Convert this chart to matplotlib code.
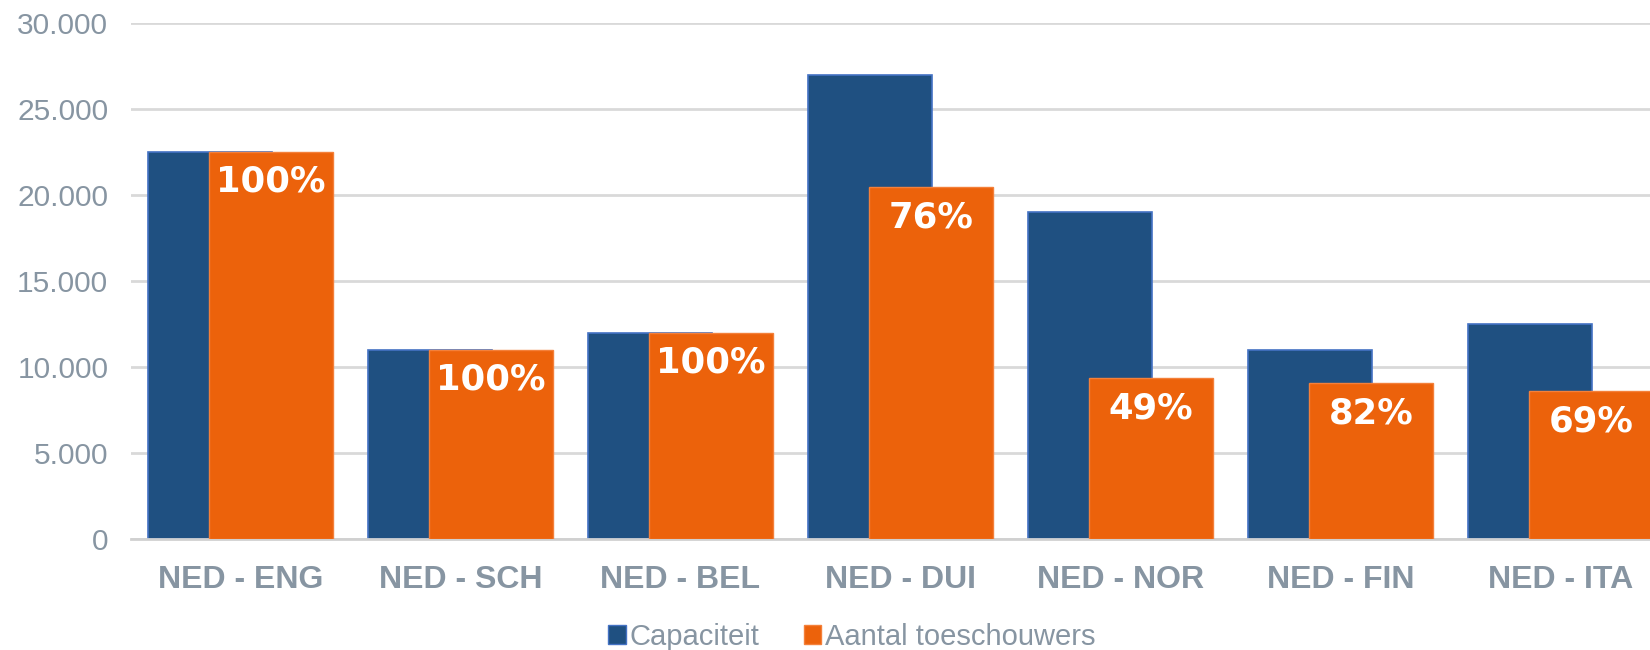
import matplotlib.pyplot as plt
from matplotlib.patches import Patch
from matplotlib.ticker import FuncFormatter

wedstrijden = ['NED - ENG', 'NED - SCH', 'NED - BEL', 'NED - DUI', 'NED - NOR', 'NED - FIN', 'NED - ITA']
capaciteit = [22500, 11000, 12000, 27000, 19000, 11000, 12500]
toeschouwers = [22500, 11000, 12000, 20450, 9350, 9050, 8600]
percentages = ['100%', '100%', '100%', '76%', '49%', '82%', '69%']

blauw = '#1f5081'
oranje = '#ec620b'
grijs = '#8795a2'

fig = plt.figure(figsize=(16.5, 6.5), dpi=100)
ax = fig.add_axes([130.5 / 1650, 111 / 650, 1540 / 1650, 516 / 650])

x = range(len(wedstrijden))
w = 0.56
off = 0.277
ax.bar([i - off / 2 for i in x], capaciteit, width=w, color=blauw,
       edgecolor='#4472c4', linewidth=1.2, zorder=2)
ax.bar([i + off / 2 for i in x], toeschouwers, width=w, color=oranje,
       edgecolor='#f4803a', linewidth=1.0, zorder=3)

for i, (v, p) in enumerate(zip(toeschouwers, percentages)):
    ax.annotate(p, (i + off / 2, v), xytext=(0, -30), textcoords='offset pixels',
                ha='center', va='center', color='white', fontsize=25.5,
                fontweight='heavy', family='DejaVu Sans', zorder=4)

ax.set_xlim(-0.5, len(wedstrijden) - 0.5)
ax.set_ylim(0, 30000)
ax.set_yticks(range(0, 30001, 5000))
ax.yaxis.set_major_formatter(FuncFormatter(lambda v, _: f'{int(v):,}'.replace(',', '.')))
ax.grid(axis='y', color='#d9d9d9', linewidth=2, zorder=0)
ax.set_axisbelow(True)

ax.set_xticks(list(x))
ax.set_xticklabels(wedstrijden, fontsize=23, fontweight='bold', color=grijs,
                   family='Liberation Sans')
for lbl in ax.get_yticklabels():
    lbl.set_fontsize(21.5)
    lbl.set_color(grijs)
    lbl.set_family('Liberation Sans')
ax.tick_params(axis='both', length=0)
ax.tick_params(axis='x', pad=19)
ax.tick_params(axis='y', pad=16)

for s in ['top', 'right', 'left']:
    ax.spines[s].set_visible(False)
ax.spines['bottom'].set_color('#d0d0d0')
ax.spines['bottom'].set_linewidth(2)

handles = [Patch(facecolor=blauw, edgecolor='#4472c4'),
           Patch(facecolor=oranje, edgecolor='#f4803a')]
fig.legend(handles, ['Capaciteit', 'Aantal toeschouwers'], loc='center',
           bbox_to_anchor=(852 / 1650, 13 / 650), ncol=2, frameon=False,
           prop={'family': 'Liberation Sans', 'size': 21},
           handlelength=0.6, handleheight=0.6, handletextpad=0.15,
           columnspacing=1.5, labelcolor=grijs)

fig.savefig('out.png', dpi=100)
